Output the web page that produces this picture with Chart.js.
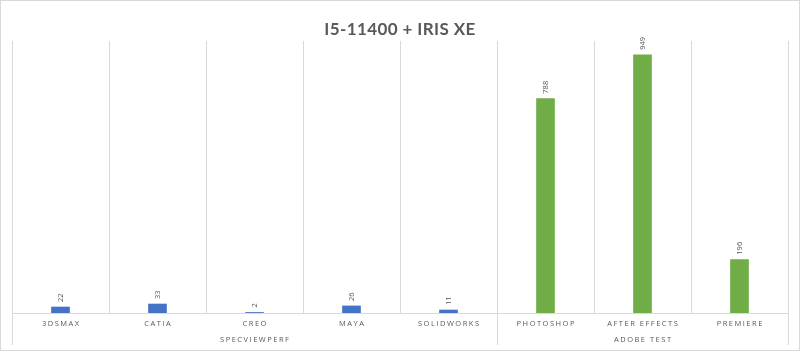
<!DOCTYPE html>
<html>
<head>
<meta charset="utf-8">
<script src="https://cdn.jsdelivr.net/npm/chart.js@4/dist/chart.umd.min.js"></script>
<style>
  html, body { margin: 0; padding: 0; background: #fff; }
  #wrap { width: 800px; height: 351px; }
</style>
</head>
<body>
<div id="wrap"><canvas id="benchChart" width="800" height="351"></canvas></div>
<script>
const chartTitle = 'I5-11400 + IRIS XE';
const categories = ['3DSMAX', 'CATIA', 'CREO', 'MAYA', 'SOLIDWORKS', 'PHOTOSHOP', 'AFTER EFFECTS', 'PREMIERE'];
const scores = [22, 33, 2, 26, 11, 788, 949, 196];
const groupNames = ['SPECVIEWPERF', 'ADOBE TEST'];
const groupOf = [0, 0, 0, 0, 0, 1, 1, 1];
const groupColors = ['#4472C4', '#70AD47'];

const textGrey = '#595959';
const lineGrey = '#d9d9d9';

// labels, group axis and frame, drawn by hand so letter spacing works
const excelLook = {
  id: 'excelLook',
  afterDatasetsDraw(chart) {
    const ctx = chart.ctx;
    const area = chart.chartArea;
    const x = chart.scales.x;
    const meta = chart.getDatasetMeta(0);

    // value labels, rotated
    ctx.save();
    ctx.fillStyle = textGrey;
    ctx.font = '7.5px "Open Sans", sans-serif';
    ctx.textAlign = 'left';
    ctx.textBaseline = 'middle';
    meta.data.forEach((bar, i) => {
      ctx.save();
      ctx.translate(bar.x, bar.y - 5);
      ctx.rotate(-Math.PI / 2);
      ctx.fillText(String(scores[i]), 0, 0);
      ctx.restore();
    });
    ctx.restore();

    // category labels
    ctx.save();
    ctx.fillStyle = textGrey;
    ctx.font = '7.5px "Open Sans", sans-serif';
    ctx.letterSpacing = '1.5px';
    ctx.textAlign = 'center';
    ctx.textBaseline = 'middle';
    categories.forEach((c, i) => {
      ctx.fillText(c, x.getPixelForValue(i) + 0.75, area.bottom + 11);
    });

    // group labels + separators
    const step = (area.right - area.left) / categories.length;
    groupNames.forEach((g, gi) => {
      const idx = groupOf.map((v, i) => v === gi ? i : -1).filter(i => i >= 0);
      const left = area.left + step * idx[0];
      const right = area.left + step * (idx[idx.length - 1] + 1);
      ctx.fillText(g, (left + right) / 2 + 0.75, area.bottom + 27);
    });
    ctx.strokeStyle = lineGrey;
    ctx.lineWidth = 1;
    const cuts = [0];
    for (let i = 1; i < groupOf.length; i++) if (groupOf[i] !== groupOf[i - 1]) cuts.push(i);
    cuts.push(groupOf.length);
    cuts.forEach(k => {
      const px = Math.round(area.left + step * k) + 0.5;
      ctx.beginPath();
      ctx.moveTo(px, area.bottom);
      ctx.lineTo(px, area.bottom + 32);
      ctx.stroke();
    });
    ctx.restore();

    // title
    ctx.save();
    ctx.fillStyle = textGrey;
    ctx.font = 'bold 17px Lato, sans-serif';
    ctx.letterSpacing = '0.4px';
    ctx.textAlign = 'center';
    ctx.textBaseline = 'middle';
    ctx.fillText(chartTitle, chart.width / 2, 30);
    ctx.restore();

    // outer frame
    ctx.save();
    ctx.strokeStyle = lineGrey;
    ctx.strokeRect(0.5, 0.5, chart.width - 1, chart.height - 1);
    ctx.restore();
  }
};

const ctx = document.getElementById('benchChart').getContext('2d');

new Chart(ctx, {
  type: 'bar',
  data: {
    labels: categories,
    datasets: [{
      data: scores,
      backgroundColor: groupOf.map(g => groupColors[g]),
      barThickness: 18
    }]
  },
  options: {
    responsive: false,
    animation: false,
    layout: { padding: { top: 41, left: 12, right: 12, bottom: 38 } },
    plugins: {
      legend: { display: false },
      tooltip: { enabled: false }
    },
    scales: {
      x: {
        ticks: { display: false },
        grid: { color: lineGrey, drawTicks: false, offset: true },
        border: { color: lineGrey },
        afterFit: s => { s.height = 0; }
      },
      y: {
        display: false,
        min: 0,
        max: 1000
      }
    }
  },
  plugins: [excelLook]
});
</script>
</body>
</html>
